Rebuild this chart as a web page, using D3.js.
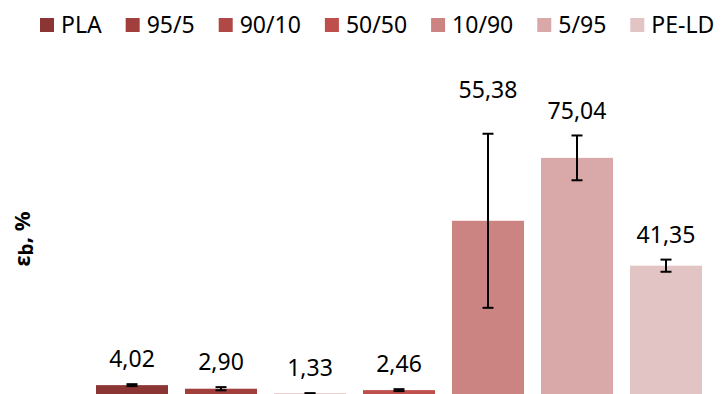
<!DOCTYPE html>
<html>
<head>
<meta charset="utf-8">
<script src="https://cdn.jsdelivr.net/npm/d3@7"></script>
<style>
  body { margin: 0; background: #fff; }
  svg { display: block; font-family: "Noto Sans", "Open Sans", sans-serif; }
</style>
</head>
<body>
<div id="wrapper"></div>
<script>
// data
const samples = ["PLA", "95/5", "90/10", "50/50", "10/90", "5/95", "PE-LD"]
const elongation = [4.02, 2.90, 1.33, 2.46, 55.38, 75.04, 41.35]
const errors = [0.3, 0.5, 0.2, 0.3, 27.2, 7.0, 1.9]
const labels = ["4,02", "2,90", "1,33", "2,46", "55,38", "75,04", "41,35"]
const colors = ["#8b3634", "#a13f3d", "#b04845", "#be4f4c", "#cc8482", "#d9a9a9", "#e3c4c5"]

function drawBars() {
  const width = 726
  const height = 394

  const svg = d3.select("#wrapper")
    .append("svg")
    .attr("width", width)
    .attr("height", height)

  // scales
  const xScale = d3.scaleBand()
    .domain(samples)
    .range([87.5, 710.5])
    .paddingInner(0.191)
    .paddingOuter(0.0955)

  const yScale = d3.scaleLinear()
    .domain([0, 100])
    .range([398, 78])

  const colorScale = d3.scaleOrdinal()
    .domain(samples)
    .range(colors)

  const rows = samples.map((s, i) => ({
    name: s, value: elongation[i], err: errors[i], label: labels[i]
  }))

  // bars
  svg.append("g")
    .selectAll("rect")
    .data(rows)
    .join("rect")
      .attr("x", d => xScale(d.name))
      .attr("y", d => yScale(d.value))
      .attr("width", xScale.bandwidth())
      .attr("height", d => yScale(0) - yScale(d.value))
      .attr("fill", d => colorScale(d.name))

  // error bars
  const errG = svg.append("g")
    .attr("stroke", "#000")
    .attr("stroke-width", 2)
  const cx = d => xScale(d.name) + xScale.bandwidth() / 2
  const cap = 5.5
  errG.selectAll(".stem")
    .data(rows)
    .join("line")
      .attr("x1", cx).attr("x2", cx)
      .attr("y1", d => yScale(d.value + d.err))
      .attr("y2", d => yScale(d.value - d.err))
  errG.selectAll(".top")
    .data(rows)
    .join("line")
      .attr("x1", d => cx(d) - cap).attr("x2", d => cx(d) + cap)
      .attr("y1", d => yScale(d.value + d.err))
      .attr("y2", d => yScale(d.value + d.err))
  errG.selectAll(".bot")
    .data(rows)
    .join("line")
      .attr("x1", d => cx(d) - cap).attr("x2", d => cx(d) + cap)
      .attr("y1", d => yScale(d.value - d.err))
      .attr("y2", d => yScale(d.value - d.err))

  // value labels (the 10/90 one was moved up by hand in the original)
  const nudge = { "10/90": -19 }
  svg.append("g")
    .selectAll("text")
    .data(rows)
    .join("text")
      .attr("x", cx)
      .attr("y", d => yScale(d.value + d.err) - 25 + (nudge[d.name] || 0))
      .attr("dy", "0.35em")
      .attr("text-anchor", "middle")
      .style("font-size", "23px")
      .attr("fill", "#000")
      .text(d => d.label)

  // legend
  const legend = svg.append("g")
  let lx = 40
  samples.forEach(s => {
    legend.append("rect")
      .attr("x", lx).attr("y", 18)
      .attr("width", 14).attr("height", 14)
      .attr("fill", colorScale(s))
    const t = legend.append("text")
      .attr("x", lx + 21).attr("y", 33)
      .style("font-size", "23px")
      .attr("fill", "#000")
      .text(s)
    lx += 21 + t.node().getComputedTextLength() + 24
  })

  // y axis label
  const yLabel = svg.append("text")
    .attr("transform", "translate(30,239) rotate(-90)")
    .attr("text-anchor", "middle")
    .style("font-size", "22px")
    .style("font-weight", "bold")
    .attr("fill", "#000")
  yLabel.append("tspan").text("ε")
  yLabel.append("tspan").attr("dy", 3).style("font-size", "19px").text("b")
  yLabel.append("tspan").attr("dy", -3).text(", %")
}
drawBars()
</script>
</body>
</html>
